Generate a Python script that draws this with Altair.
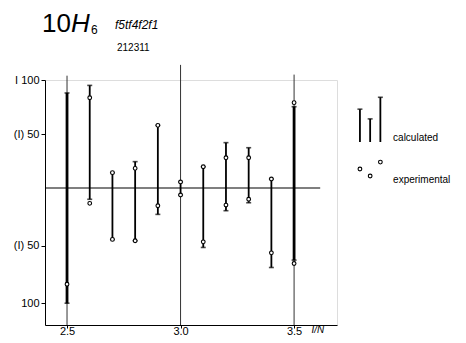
import altair as alt
import pandas as pd

# ---- data ----
x_vals = [2.5, 2.6, 2.7, 2.8, 2.9, 3.0, 3.1, 3.2, 3.3, 3.4, 3.5]
calc_hi = [88, 95, 14.2, 24.4, 58, 5.6, 19.7, 42, 37.3, 8.3, 75.3]
calc_lo = [-100, -9.8, -44.6, -45.8, -22.9, -6.1, -51.6, -19.7, -12.8, -69, -62.6]

exp_x = [2.5, 2.6, 2.6, 2.7, 2.7, 2.8, 2.8, 2.9, 2.9, 3.0, 3.0, 3.1, 3.1,
         3.2, 3.2, 3.3, 3.3, 3.4, 3.4, 3.5, 3.5]
exp_y = [-83.5, 83.6, -13.3, 14.2, -44.6, 18.2, -45.8, 58, -15.4, 5.6, -6.1,
         19.7, -46.7, 28, -14.8, 28, -9.8, 8.3, -56.3, 79, -65.5]

grid_x = [2.5, 3.0, 3.5]
grid_top = [104, 114, 105]

y_ticks = [100, 50, -50, -100]
x_ticks = [2.5, 3.0, 3.5]

legend_bar_x = [3.79, 3.835, 3.88]
legend_bar_top = [73, 64, 84]
legend_bar_bottom = [42.6, 42.6, 42.6]
legend_exp_x = [3.79, 3.835, 3.88]
legend_exp_y = [17.6, 11.1, 24]
legend_labels = ["calculated", "experimental"]
legend_label_x = [3.936, 3.936]
legend_label_y = [46, 7.4]

X_MIN, X_MAX = 2.403, 3.689
Y_MIN, Y_MAX = -118.9, 100
ZERO_END = 3.615

bars = pd.DataFrame({"x": x_vals, "hi": calc_hi, "lo": calc_lo})
exp = pd.DataFrame({"x": exp_x, "y": exp_y})
grid = pd.DataFrame({"x": grid_x, "top": grid_top})
lbars = pd.DataFrame({"x": legend_bar_x, "top": legend_bar_top, "bottom": legend_bar_bottom})
lexp = pd.DataFrame({"x": legend_exp_x, "y": legend_exp_y})
ltext = pd.DataFrame({"x": legend_label_x, "y": legend_label_y, "t": legend_labels})
one = pd.DataFrame({"k": [0]})

W, H = 292, 245
FONT = "Liberation Sans"

xs = alt.Scale(domain=[X_MIN, X_MAX], nice=False, zero=False)
ys = alt.Scale(domain=[Y_MIN, 0, Y_MAX], range=[H, 108, 0], nice=False, zero=False)

label_expr = ("datum.value == 100 ? 'I 100' : datum.value == 50 ? '(I) 50' : "
              "datum.value == -50 ? '(I) 50' : '100'")

x_axis = alt.Axis(values=x_ticks, format=".1f", grid=False, ticks=True, tickSize=3,
                  labelBaseline="alphabetic", labelPadding=6, labelFontSize=11,
                  labelFont=FONT, labelColor="black", domainColor="black",
                  tickColor="black", title="I/N", titleFont=FONT, titleFontSize=10,
                  titleFontStyle="italic", titleFontWeight="normal",
                  titleX=266, titleY=7.5, titleBaseline="alphabetic",
                  titleAnchor="start", titleAlign="left")
y_axis = alt.Axis(values=y_ticks, labelExpr=label_expr, grid=False, tickSize=4,
                  labelFontSize=11, labelFont=FONT, labelColor="black",
                  domainColor="black", tickColor="black", title=None, labelPadding=2)

base_x = alt.X("x:Q", scale=xs, axis=x_axis)

gridlines = alt.Chart(grid).mark_rule(color="#333", strokeWidth=1).encode(
    x=base_x,
    y=alt.Y("top:Q", scale=ys, axis=y_axis),
    y2=alt.datum(Y_MIN),
)

zero_line = alt.Chart(one).mark_rule(color="black", strokeWidth=1.2).encode(
    x=alt.datum(X_MIN), x2=alt.datum(ZERO_END), y=alt.datum(0)
)

bar_rules = alt.Chart(bars).mark_rule(color="black").encode(
    x=alt.X("x:Q", scale=xs),
    y=alt.Y("hi:Q", scale=ys),
    y2="lo:Q",
    strokeWidth=alt.condition("datum.x == 2.5 || datum.x == 3.5", alt.value(2.8), alt.value(1.8)),
)

cap_hi = alt.Chart(bars).mark_tick(orient="horizontal", size=5, thickness=1.6, color="black").encode(
    x=alt.X("x:Q", scale=xs), y=alt.Y("hi:Q", scale=ys)
)
cap_lo = alt.Chart(bars).mark_tick(orient="horizontal", size=5, thickness=1.6, color="black").encode(
    x=alt.X("x:Q", scale=xs), y=alt.Y("lo:Q", scale=ys)
)

exp_pts = alt.Chart(exp).mark_point(shape="circle", size=14, filled=True, fill="white",
                                    stroke="black", strokeWidth=1.1, opacity=1).encode(
    x=alt.X("x:Q", scale=xs), y=alt.Y("y:Q", scale=ys)
)

leg_bars = alt.Chart(lbars).mark_rule(color="black", strokeWidth=1.8).encode(
    x=alt.X("x:Q", scale=xs), y=alt.Y("top:Q", scale=ys), y2="bottom:Q"
)
leg_caps = alt.Chart(lbars).mark_tick(orient="horizontal", size=5, thickness=1.6, color="black").encode(
    x=alt.X("x:Q", scale=xs), y=alt.Y("top:Q", scale=ys)
)
leg_exp = alt.Chart(lexp).mark_point(shape="circle", size=14, filled=True, fill="white",
                                     stroke="black", strokeWidth=1.1, opacity=1).encode(
    x=alt.X("x:Q", scale=xs), y=alt.Y("y:Q", scale=ys)
)
leg_text = alt.Chart(ltext).mark_text(align="left", baseline="middle", font=FONT,
                                      fontSize=10, color="black").encode(
    x=alt.X("x:Q", scale=xs), y=alt.Y("y:Q", scale=ys), text="t:N"
)

# heading annotations (one row each, so each is drawn once)
t10 = alt.Chart(one).mark_text(text="10", align="left", baseline="alphabetic", font=FONT,
                               fontSize=26, color="black").encode(
    x=alt.value(-3), y=alt.value(-48))
tH = alt.Chart(one).mark_text(text="H", align="left", baseline="alphabetic", font=FONT,
                              fontSize=26, fontStyle="italic", color="black").encode(
    x=alt.value(26), y=alt.value(-48))
t6 = alt.Chart(one).mark_text(text="6", align="left", baseline="alphabetic", font=FONT,
                              fontSize=12, color="black").encode(
    x=alt.value(46), y=alt.value(-46))
tconf = alt.Chart(one).mark_text(text="f5tf4f2f1", align="left", baseline="alphabetic",
                                 font=FONT, fontSize=12, fontStyle="italic", color="black").encode(
    x=alt.value(70), y=alt.value(-51))
tnum = alt.Chart(one).mark_text(text="212311", align="left", baseline="alphabetic",
                                font=FONT, fontSize=10, color="black").encode(
    x=alt.value(72), y=alt.value(-29))

chart = alt.layer(
    gridlines, zero_line, bar_rules, cap_hi, cap_lo, exp_pts,
    leg_bars, leg_caps, leg_exp, leg_text,
    t10, tH, t6, tconf, tnum,
).properties(
    width=W, height=H,
    autosize=alt.AutoSizeParams(type="none"),
    padding={"left": 37, "top": 72, "right": 121, "bottom": 10},
).configure_view(stroke=None).configure(background="white")

chart.save("out.html", embed_options={"renderer": "svg", "actions": False})
